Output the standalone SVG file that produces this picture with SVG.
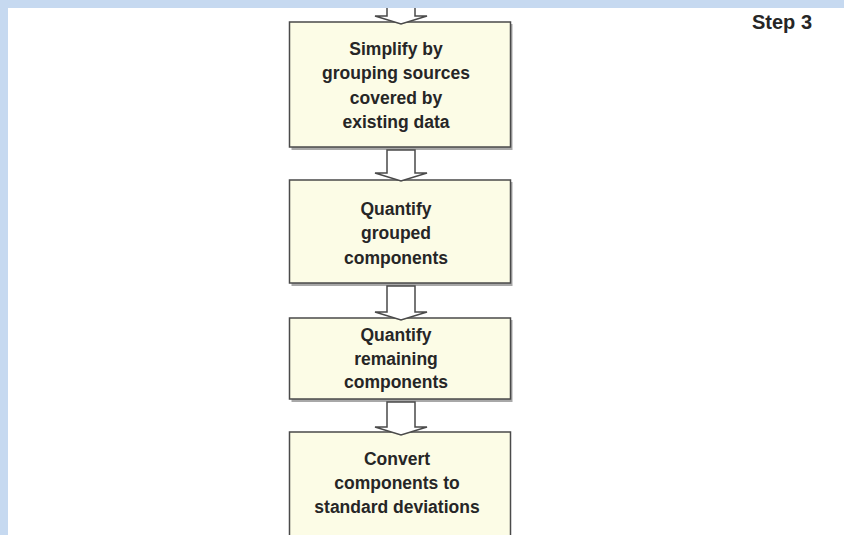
<svg xmlns="http://www.w3.org/2000/svg" width="844" height="535" viewBox="0 0 844 535">
  <style>
    .box { fill: #fcfce6; stroke: #4a4a4a; stroke-width: 1.5; }
    .shadow { fill: #a8a8a8; }
    .label { font-family: "Liberation Sans", Arial, sans-serif; font-weight: bold; font-size: 17.5px; fill: #262626; text-anchor: middle; }
    .step { font-family: "Liberation Sans", Arial, sans-serif; font-weight: bold; font-size: 20px; fill: #262626; text-anchor: middle; }
    .arrow { fill: #ffffff; stroke: #4a4a4a; stroke-width: 1.5; stroke-linejoin: miter; }
  </style>

  <!-- page background and frame strips -->
  <rect width="844" height="535" fill="#ffffff"/>
  <rect x="0" y="0" width="8" height="535" fill="#c6d9f0"/>

  <text class="step" x="782" y="29">Step 3</text>

  <!-- process boxes -->
  <g id="simplify">
    <rect class="shadow" x="291.5" y="24" width="221" height="126"/>
    <rect class="box" x="289.5" y="22" width="221" height="125"/>
    <text class="label" x="396" y="55">Simplify by</text>
    <text class="label" x="396" y="79.3">grouping sources</text>
    <text class="label" x="396" y="103.6">covered by</text>
    <text class="label" x="396" y="128">existing data</text>
  </g>

  <g id="quantify-grouped">
    <rect class="shadow" x="291.5" y="182" width="221" height="104"/>
    <rect class="box" x="289.5" y="180" width="221" height="103"/>
    <text class="label" x="396" y="215">Quantify</text>
    <text class="label" x="396" y="239.3">grouped</text>
    <text class="label" x="396" y="263.5">components</text>
  </g>

  <g id="quantify-remaining">
    <rect class="shadow" x="291.5" y="320" width="221" height="82"/>
    <rect class="box" x="289.5" y="318" width="221" height="81"/>
    <text class="label" x="396" y="341">Quantify</text>
    <text class="label" x="396" y="364.5">remaining</text>
    <text class="label" x="396" y="388.3">components</text>
  </g>

  <g id="convert">
    <rect class="box" x="289.5" y="432" width="221" height="120"/>
    <text class="label" x="397" y="465">Convert</text>
    <text class="label" x="397" y="488.6">components to</text>
    <text class="label" x="397" y="512.7">standard deviations</text>
  </g>

  <!-- hollow block arrows between the steps -->
  <g id="connectors">
    <polygon class="arrow" points="387,6 387,16 375,16 401,24 427,16 415,16 415,6"/>
    <polygon class="arrow" points="387,150 387,173 375,173 401,181 427,173 415,173 415,150"/>
    <polygon class="arrow" points="387,286 387,312 375,312 401,320 427,312 415,312 415,286"/>
    <polygon class="arrow" points="387,402 387,427 375,427 401,435 427,427 415,427 415,402"/>
  </g>

  <!-- top frame strip drawn last so the incoming arrow starts beneath it -->
  <rect x="0" y="0" width="844" height="8" fill="#c6d9f0"/>
</svg>
